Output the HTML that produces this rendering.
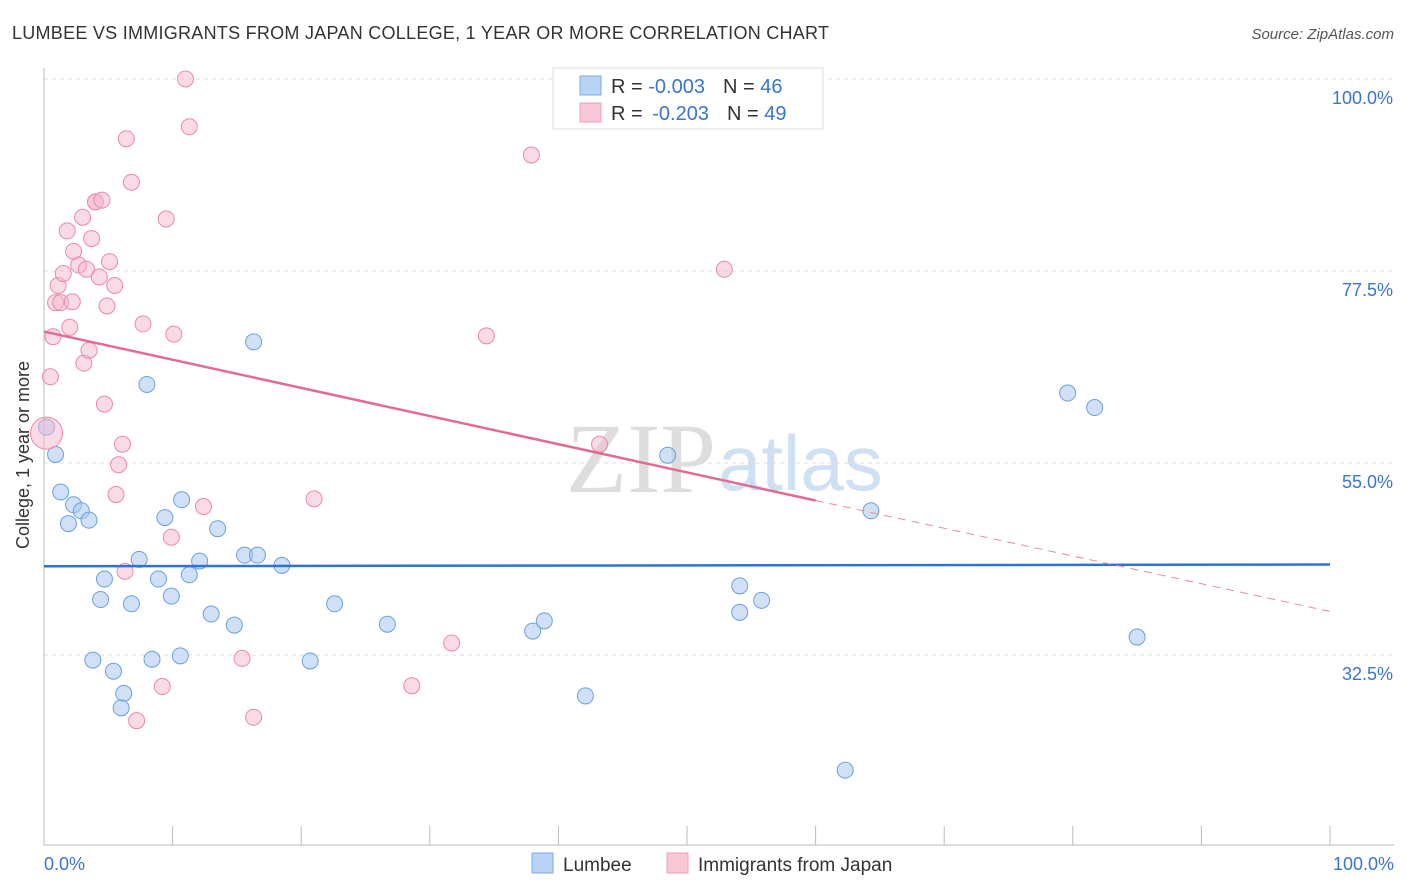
<!DOCTYPE html>
<html><head><meta charset="utf-8"><style>
body{margin:0;background:#fff;font-family:"Liberation Sans",sans-serif;}
svg{display:block}
</style></head><body>
<svg id="c" width="1406" height="892" xmlns="http://www.w3.org/2000/svg">
<text x="12" y="39" font-size="18" fill="#333" textLength="817">LUMBEE VS IMMIGRANTS FROM JAPAN COLLEGE, 1 YEAR OR MORE CORRELATION CHART</text>
<text x="1394" y="39" font-size="15" fill="#555" font-style="italic" text-anchor="end">Source: ZipAtlas.com</text>
<text x="716" y="492" font-size="100" fill="#ddd" font-family="Liberation Serif,serif" text-anchor="end">ZIP</text>
<text x="718" y="490" font-size="78" fill="#cfe0f3">atlas</text>
<g id="grid"></g><g id="pts"></g><g id="lines"></g>
<text x="29" y="455" font-size="18" fill="#333" text-anchor="middle" transform="rotate(-90 29 455)">College, 1 year or more</text>
<text x="44" y="870" font-size="18" fill="#3b74d0">0.0%</text>
<text x="1394" y="870" font-size="18" fill="#3b74d0" text-anchor="end">100.0%</text>
<g>
<rect x="553" y="68" width="270" height="61" fill="#fff" stroke="#ddd"/>
<rect x="580" y="76" width="21" height="19" fill="#b8d3f5" stroke="#7eaae2"/>
<rect x="580" y="103" width="21" height="19" fill="#f9c6d5" stroke="#eba0b8"/>
<text x="611" y="93" font-size="20" fill="#333">R = <tspan fill="#3b74d0">-0.003</tspan><tspan dx="18">N = </tspan><tspan fill="#3b74d0">46</tspan></text>
<text x="611" y="120" font-size="20" fill="#333">R = <tspan fill="#3b74d0" dx="4">-0.203</tspan><tspan dx="18">N = </tspan><tspan fill="#3b74d0">49</tspan></text>
</g>
<g>
<rect x="532" y="853" width="21" height="20" fill="#b8d3f5" stroke="#7eaae2"/>
<text x="563" y="871" font-size="19" fill="#333">Lumbee</text>
<rect x="667" y="853" width="21" height="20" fill="#f9c6d5" stroke="#eba0b8"/>
<text x="698" y="871" font-size="19" fill="#333">Immigrants from Japan</text>
</g>
</svg>
<script>
const yTicks=[100,77.5,55,32.5];
const xTicks=[0,10,20,30,40,50,60,70,80,90,100];
const lumbeeX=[0.2,0.9,1.3,2.3,2.9,1.9,3.5,4.7,4.4,3.8,5.4,6.2,6.0,6.8,7.4,8.0,8.9,9.4,9.9,10.7,11.3,12.1,10.6,8.4,13.0,13.5,14.8,15.6,16.6,18.5,16.3,20.7,22.6,26.7,38.0,38.9,42.1,48.5,54.1,54.1,55.8,62.3,64.3,79.6,81.7,85.0];
const lumbeeY=[59.2,56.0,51.6,50.1,49.4,47.9,48.3,41.4,39.0,31.9,30.6,28.0,26.3,38.5,43.7,64.2,41.4,48.6,39.4,50.7,41.9,43.5,32.4,32.0,37.3,47.3,36.0,44.2,44.2,43.0,69.2,31.8,38.5,36.1,35.3,36.5,27.7,55.9,40.6,37.5,38.9,19.0,49.4,63.2,61.5,34.6];
const japanX=[0.2,0.5,0.7,0.9,1.1,1.5,1.3,2.0,1.8,2.2,2.3,2.7,3.0,3.1,3.5,3.3,3.7,4.0,4.0,4.3,4.5,4.7,5.1,4.9,5.5,5.8,5.6,6.1,6.4,6.3,6.8,7.2,7.7,9.2,9.5,9.9,10.1,11.0,11.3,12.4,15.4,16.3,21.0,28.6,31.7,34.4,37.9,43.2,52.9];
const japanY=[58.5,65.1,69.8,73.8,75.8,77.2,73.8,70.9,82.2,73.9,79.8,78.2,83.8,66.7,68.2,77.7,81.3,85.6,85.6,76.8,85.8,61.9,78.6,73.4,75.8,54.8,51.3,57.2,93.0,42.3,87.9,24.8,71.3,28.8,83.6,46.3,70.1,100,94.4,49.9,32.1,25.2,50.8,28.9,33.9,69.9,91.1,57.2,77.7];
const bigJapan=[0];
const lumbeeTrend=[42.9,43.1];
const japanTrend=[70.4,50.6,37.6];
const X=v=>44+v*12.86, Y=v=>79+(100-v)*8.533;
const NS="http://www.w3.org/2000/svg";
function mk(t,a,p){const e=document.createElementNS(NS,t);for(const k in a)e.setAttribute(k,a[k]);p.appendChild(e);return e;}
const g=document.getElementById('grid');
yTicks.forEach((v,i)=>{
 const l=mk('line',{x1:44,x2:1394,y1:Y(v),y2:Y(v),stroke:'#ddd','stroke-dasharray':'4,4'},g);
 
 
 const t=mk('text',{x:1393,y:Y(v)+25,'font-size':18,fill:'#3b74d0','text-anchor':'end'},g);
 t.textContent=v.toFixed(1)+'%';
 
 
});
mk('line',{x1:44,x2:44,y1:68,y2:845,stroke:'#bbb'},g);
mk('line',{x1:44,x2:1394,y1:845,y2:845,stroke:'#bbb'},g);
xTicks.forEach(v=>{
 const l=mk('line',{x1:X(v),x2:X(v),y1:826,y2:845,stroke:'#bbb'},g);
 
 
});
const p=document.getElementById('pts');
lumbeeX.forEach((x,i)=>{
 const c=mk('circle',{cx:X(x),cy:Y(lumbeeY[i]),r:8,fill:'rgba(169,200,240,0.55)',stroke:'#6d9fdc','stroke-width':1},p);
 
 
});
japanX.forEach((x,i)=>{
 const c=mk('circle',{cx:X(x),cy:Y(japanY[i]),r:bigJapan.includes(i)?16:8,fill:'rgba(245,184,203,0.5)',stroke:'#e88aa8','stroke-width':1},p);
 
 
});
const L=document.getElementById('lines');
const bl=mk('line',{x1:X(0),x2:X(100),y1:Y(lumbeeTrend[0]),y2:Y(lumbeeTrend[1]),stroke:'#2f72d6','stroke-width':2.5},L);


const pl=mk('line',{x1:X(0),x2:X(60),y1:Y(japanTrend[0]),y2:Y(japanTrend[1]),stroke:'#e36a93','stroke-width':2.5},L);


const pd=mk('line',{x1:X(60),x2:X(100),y1:Y(japanTrend[1]),y2:Y(japanTrend[2]),stroke:'#e88aa8','stroke-width':1,'stroke-dasharray':'8,6'},L);


</script>
</body></html>
